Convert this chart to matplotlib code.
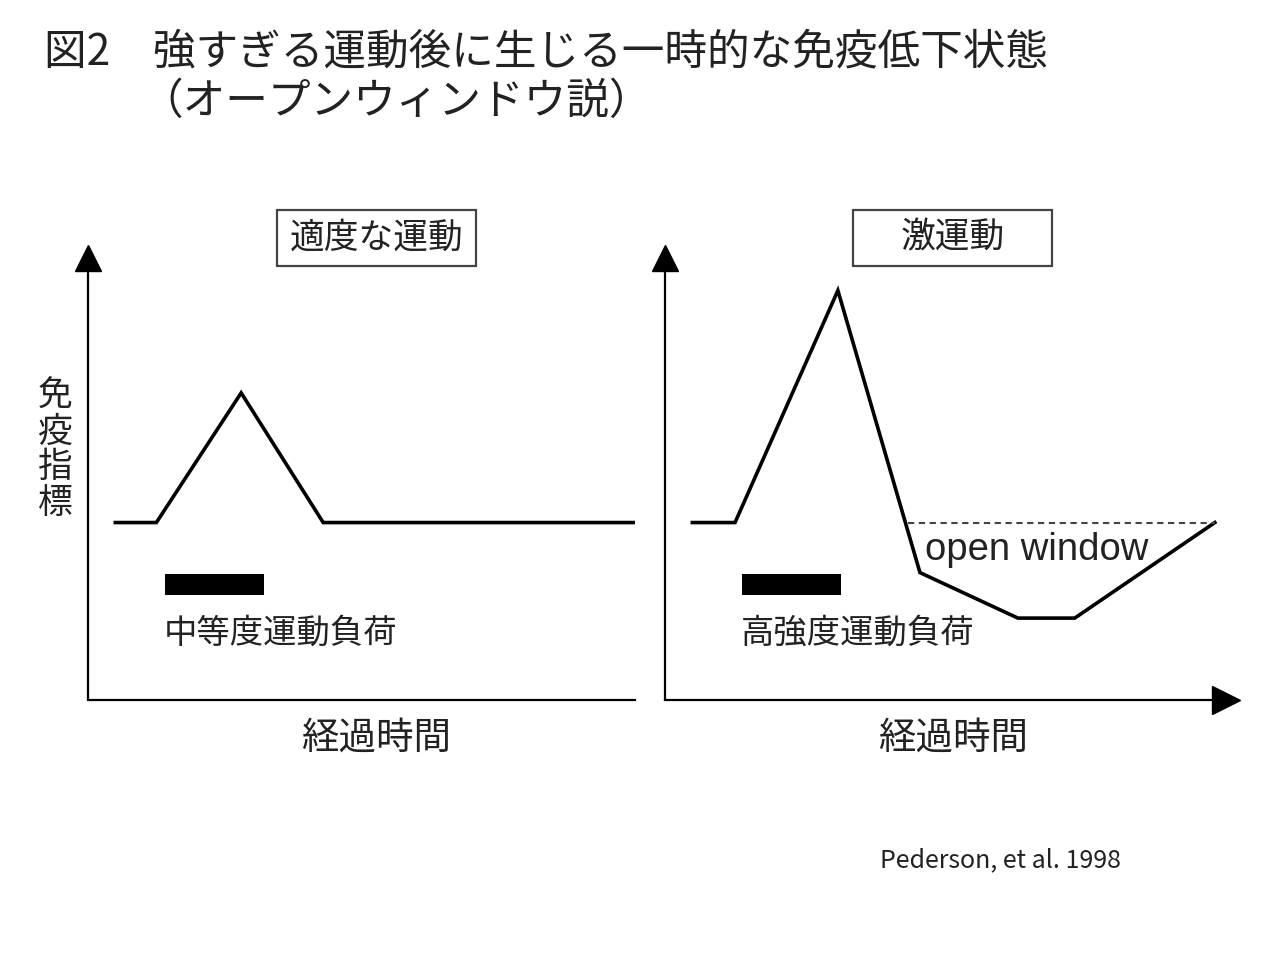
import matplotlib.pyplot as plt
from matplotlib.patches import Rectangle

plt.rcParams['font.family'] = ['Noto Sans CJK JP', 'DejaVu Sans']

W, H = 1280, 960

# データ (時間: 任意単位, 免疫指標: 任意単位)
baseline = 39
mod_t = [5, 12.5, 28, 43, 100]
mod_level = [39, 39, 67.5, 39, 39]
hard_t = [5, 12.8, 31.6, 46.6, 64.5, 74.9, 100.5]
hard_level = [39, 39, 90, 28, 18, 18, 39]
window_t = [44.4, 100.5]
load_start, load_end = 14.1, 32.2
load_low, load_high = 23.1, 27.7

titles = ['適度な運動', '激運動']
load_labels = ['中等度運動負荷', '高強度運動負荷']
ylabel_chars = ['免', '疫', '指', '標']
xlabel = '経過時間'

txt = '#222222'


def fx(x):
    return x / W


def fy(y):
    return 1 - y / H


fig = plt.figure(figsize=(12.8, 9.6), dpi=100)

# タイトル
fig.text(fx(44), fy(52), '図2\u3000強すぎる運動後に生じる一時的な免疫低下状態',
         fontsize=30.7, color=txt, va='center', ha='left')
fig.text(fx(140), fy(102), '（オープンウィンドウ説）',
         fontsize=30.7, color=txt, va='center', ha='left')

# 左右のパネル
ax1 = fig.add_axes([fx(88), fy(700), fx(635 - 88), (700 - 245) / H])
ax2 = fig.add_axes([fx(665), fy(700), fx(1240 - 665), (700 - 245) / H])
for ax, xmax in [(ax1, 100), (ax2, 105.1)]:
    ax.set_xlim(0, xmax)
    ax.set_ylim(0, 100)
    ax.axis('off')
    # 縦軸と矢印
    ax.plot([0, 0], [0, 0.96], transform=ax.transAxes, color='black', lw=1.6,
            clip_on=False, solid_capstyle='butt')
    ax.plot([0], [0.9725], transform=ax.transAxes, marker='^', ms=18.7,
            color='black', clip_on=False)

ax1.plot([0, 1], [0, 0], transform=ax1.transAxes, color='black', lw=1.6, clip_on=False)
ax2.plot([0, 0.96], [0, 0], transform=ax2.transAxes, color='black', lw=1.6, clip_on=False)
ax2.plot([0.9765], [0], transform=ax2.transAxes, marker='>', ms=19.5,
         color='black', clip_on=False)

# 曲線
ax1.plot(mod_t, mod_level, color='black', lw=2.6, solid_joinstyle='miter')
ax2.plot(hard_t, hard_level, color='black', lw=2.6, solid_joinstyle='miter')
ax2.plot(window_t, [baseline, baseline], color='#444444', lw=1.5, ls=(0, (3, 2.2)))
ax2.text(47.5, 33, 'open window', family='Liberation Sans', fontsize=27.5,
         color=txt, va='center', ha='left')

# 運動負荷バー
for ax, lab in [(ax1, load_labels[0]), (ax2, load_labels[1])]:
    ax.add_patch(Rectangle((load_start, load_low), load_end - load_start,
                           load_high - load_low, color='black', lw=0))
    ax.text(load_start - 0.3, 14.7, lab, fontsize=24, color=txt,
            va='center', ha='left')

# パネル見出しの枠
for cx, t in [(376.5, titles[0]), (952.5, titles[1])]:
    fig.add_artist(Rectangle((fx(cx - 99.5), fy(266)), fx(199), 56 / H,
                             transform=fig.transFigure, fill=False,
                             ec='#444444', lw=1.6))
    fig.text(fx(cx), fy(238), t, fontsize=25, color=txt, ha='center', va='center')

# 軸ラベル
fig.text(fx(55), fy(450), '\n'.join(ylabel_chars), fontsize=25, color=txt,
         ha='center', va='center', linespacing=1.03)
fig.text(fx(376), fy(738), xlabel, fontsize=27, color=txt, ha='center', va='center')
fig.text(fx(953), fy(738), xlabel, fontsize=27, color=txt, ha='center', va='center')

# 出典
fig.text(fx(880), fy(860), 'Pederson, et al. 1998', fontsize=18, color=txt,
         ha='left', va='center')

fig.savefig('out.png', dpi=100, facecolor='white')
